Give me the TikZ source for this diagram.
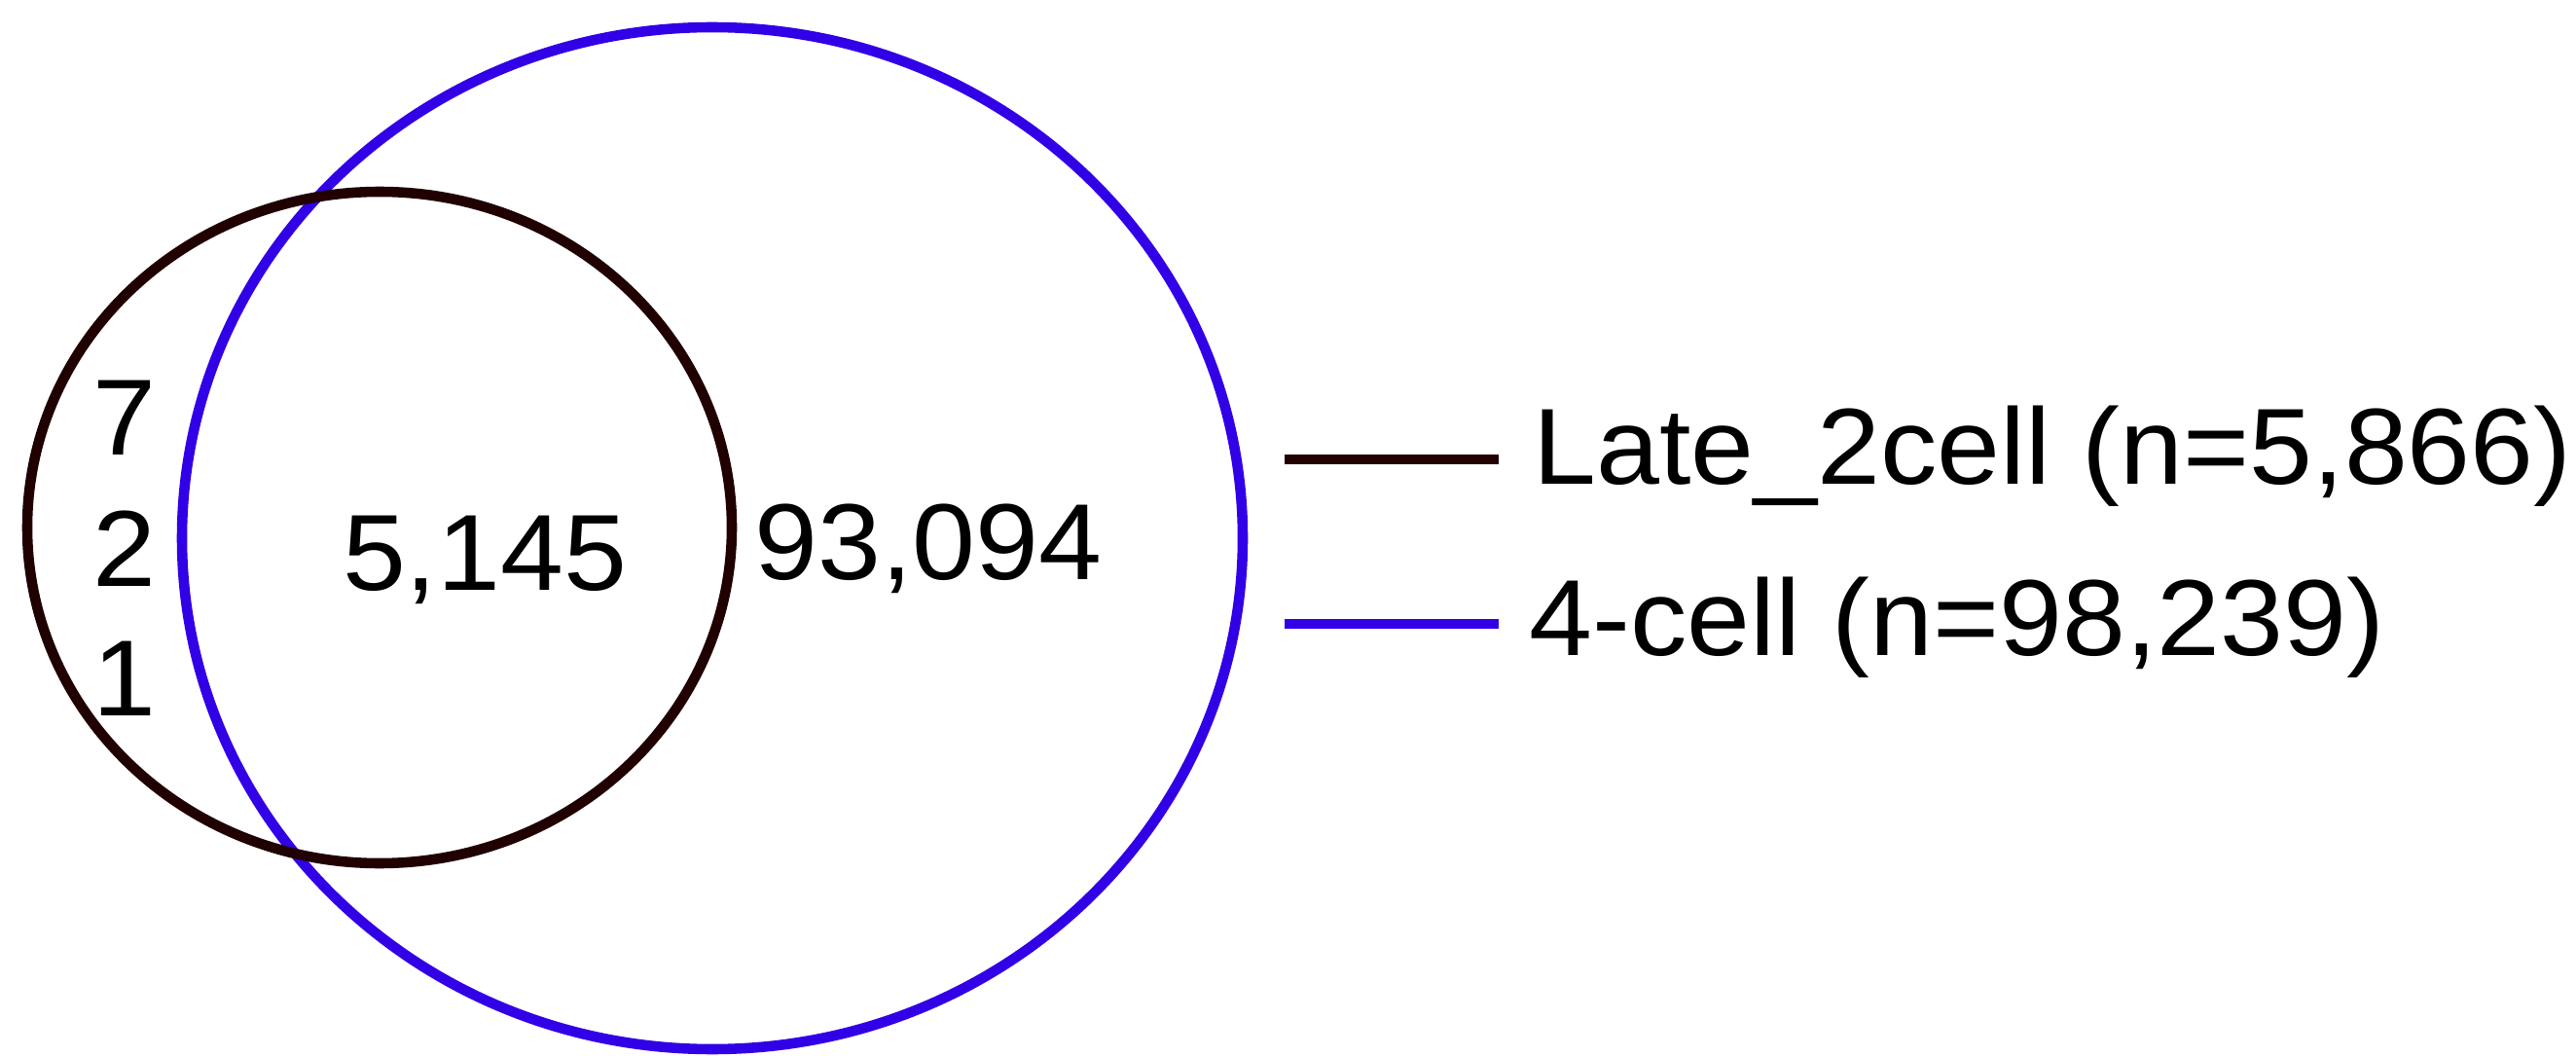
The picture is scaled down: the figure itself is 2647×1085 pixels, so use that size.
\documentclass[tikz,border=0pt]{standalone}
\usepackage{fontspec}
\setmainfont{Liberation Sans}
\usepackage{graphicx}
\definecolor{setA}{RGB}{32,0,0}
\definecolor{setB}{RGB}{50,0,230}
\newcommand{\wtext}[1]{\scalebox{1.05}[1]{#1}}
\begin{document}
\begin{tikzpicture}[x=0.01cm,y=-0.01cm,
  ring/.style={line width=3pt},
  key/.style={line width=3pt},
  lbl/.style={inner sep=0pt,font=\fontsize{31.6}{39}\selectfont,text=black}]
\useasboundingbox (0,0) rectangle (2647,1085);
% the two sets
\draw[ring,setB] (732,553) ellipse [x radius=545, y radius=525];
\draw[ring,setA] (390,542) ellipse [x radius=362, y radius=345];
% region counts
\node[lbl,anchor=base] (a1) at (128,468) {\wtext{7}};
\node[lbl,anchor=base] (a2) at (128,602) {\wtext{2}};
\node[lbl,anchor=base] (a3) at (128,735) {\wtext{1}};
\node[lbl,anchor=base] (ab) at (498,606) {\wtext{5,145}};
\node[lbl,anchor=base] (b) at (954,595) {\wtext{93,094}};
% legend
\coordinate (ka0) at (1320,472);
\coordinate (ka1) at (1540,472);
\coordinate (kb0) at (1320,641);
\coordinate (kb1) at (1540,641);
\draw[key,setA] (ka0) -- (ka1);
\draw[key,setB] (kb0) -- (kb1);
\node[lbl,anchor=base west] (la) at (1575,498) {\wtext{Late\_2cell (n=5,866)}};
\node[lbl,anchor=base west] (lb) at (1571,673) {\wtext{4-cell (n=98,239)}};
\end{tikzpicture}
\end{document}
